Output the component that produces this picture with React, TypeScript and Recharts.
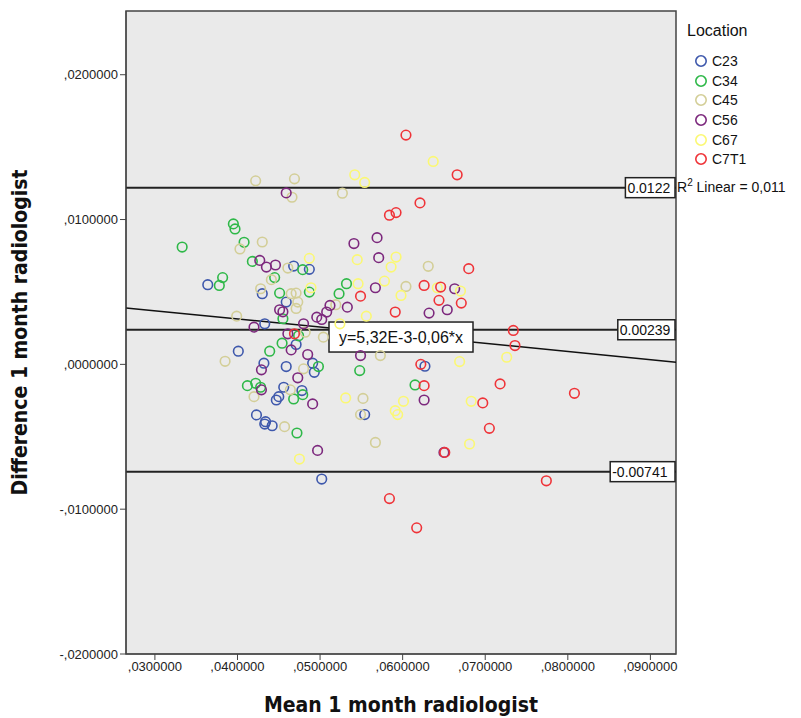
import { ScatterChart, Scatter, XAxis, YAxis, CartesianGrid, ReferenceLine, ReferenceArea } from "recharts";

type Pt = [number, number];

// [mean, difference], per location
const C23: Pt[] = [
  [0.0468, 0.00679], [0.0487, 0.00656], [0.0364, 0.0055], [0.043, 0.00488], [0.0459, 0.0043],
  [0.0433, 0.0028], [0.0471, 0.00137], [0.0401, 0.00091], [0.0432, 0.00008], [0.0459, -0.00015],
  [0.0491, 0.00008], [0.0493, -0.00055], [0.0456, -0.00158], [0.0478, -0.00181], [0.045, -0.00223],
  [0.0447, -0.00246], [0.0423, -0.00349], [0.0434, -0.00396], [0.0433, -0.00412], [0.0442, -0.00424],
  [0.0554, -0.00347], [0.0502, -0.00792], [0.0627, -0.00013],
];
const C34: Pt[] = [
  [0.0395, 0.0097], [0.0397, 0.00935], [0.0333, 0.0081], [0.0408, 0.00843], [0.0418, 0.00711],
  [0.0479, 0.00654], [0.0382, 0.00599], [0.0378, 0.00545], [0.0445, 0.00599], [0.0451, 0.00492],
  [0.0487, 0.00499], [0.0532, 0.00557], [0.0523, 0.00488], [0.0455, 0.00315], [0.0474, 0.00197],
  [0.0454, 0.00146], [0.0439, 0.00091], [0.0498, -0.00015], [0.0548, -0.00043], [0.0412, -0.00147],
  [0.0422, -0.00131], [0.0428, -0.00158], [0.0479, -0.00209], [0.0468, -0.00239], [0.0472, -0.00474],
  [0.0615, -0.00142],
];
const C45: Pt[] = [
  [0.0422, 0.01267], [0.0469, 0.01281], [0.0466, 0.01154], [0.0527, 0.01182], [0.043, 0.00845],
  [0.0403, 0.00797], [0.0461, 0.00665], [0.0428, 0.00522], [0.0441, 0.00585], [0.0465, 0.00488],
  [0.0471, 0.00492], [0.0473, 0.0043], [0.0471, 0.00386], [0.0399, 0.00333], [0.0482, 0.00222],
  [0.0504, 0.00188], [0.0519, 0.00412], [0.0385, 0.00021], [0.048, -0.00031], [0.042, -0.00223],
  [0.0464, -0.00176], [0.0552, -0.00235], [0.0457, -0.0043], [0.0549, -0.00347], [0.0567, -0.00539],
  [0.0604, 0.00538], [0.0631, 0.00677], [0.0573, 0.00061],
];
const C56: Pt[] = [
  [0.0459, 0.01184], [0.0541, 0.00834], [0.0569, 0.00875], [0.0571, 0.00737], [0.0427, 0.00718],
  [0.0435, 0.00672], [0.0446, 0.00686], [0.0451, 0.00377], [0.0455, 0.00363], [0.042, 0.00257],
  [0.048, 0.0028], [0.0461, 0.00211], [0.0496, 0.00326], [0.0502, 0.0031], [0.0508, 0.00361],
  [0.0512, 0.00407], [0.0533, 0.00395], [0.0567, 0.00529], [0.0465, 0.001], [0.0485, 0.00068],
  [0.0429, -0.00038], [0.0473, -0.00093], [0.0549, 0.00061], [0.0429, -0.00176], [0.0491, -0.00273],
  [0.0497, -0.00594], [0.0632, 0.00354], [0.0654, 0.00377], [0.0663, 0.00522], [0.0626, -0.00246],
  [0.065, -0.00608],
];
const C67: Pt[] = [
  [0.0542, 0.01309], [0.0554, 0.01256], [0.0637, 0.01401], [0.0487, 0.00732], [0.0545, 0.00723],
  [0.0586, 0.00672], [0.0592, 0.00741], [0.0489, 0.00529], [0.0546, 0.00557], [0.0524, 0.0028],
  [0.0556, 0.00333], [0.0578, 0.00575], [0.0598, 0.00476], [0.0642, 0.00529], [0.067, 0.00506],
  [0.0726, 0.00049], [0.0669, 0.00019], [0.0531, -0.00232], [0.0601, -0.00255], [0.0591, -0.0032],
  [0.0594, -0.00347], [0.0683, -0.00255], [0.0681, -0.0055], [0.0475, -0.00654],
];
const C7T1: Pt[] = [
  [0.0604, 0.01583], [0.0666, 0.01309], [0.0621, 0.01115], [0.0584, 0.0103], [0.0592, 0.01048],
  [0.068, 0.00661], [0.0549, 0.00471], [0.0626, 0.00545], [0.0646, 0.00534], [0.0644, 0.00442],
  [0.0671, 0.00423], [0.0591, 0.00361], [0.0469, 0.00211], [0.0734, 0.00234], [0.0736, 0.0013],
  [0.0622, 0], [0.0626, -0.00147], [0.0718, -0.00135], [0.0808, -0.002], [0.0697, -0.00266],
  [0.0705, -0.00442], [0.0651, -0.00608], [0.0774, -0.00804], [0.0584, -0.00927], [0.0617, -0.01129],
];

const SERIES: [string, Pt[]][] = [
  ["C23", C23], ["C34", C34], ["C45", C45], ["C56", C56], ["C67", C67], ["C7T1", C7T1],
];
const COLORS: Record<string, string> = {
  C23: "#3E58AC",
  C34: "#2EB848",
  C45: "#D3CE97",
  C56: "#7C287D",
  C67: "#FBF873",
  C7T1: "#EF3338",
};

const X_TICKS = [0.03, 0.04, 0.05, 0.06, 0.07, 0.08, 0.09];
const Y_TICKS = [-0.02, -0.01, 0, 0.01, 0.02];
const X_DOMAIN = [0.0265, 0.0931];
const Y_DOMAIN = [-0.02, 0.0244];

// mean difference and limits of agreement
const LIMITS = [
  { value: 0.0122, text: "0.0122" },
  { value: 0.00239, text: "0.00239" },
  { value: -0.00741, text: "-0.00741" },
];
// fit line ends, read at the plot edges
const FIT = [
  { x: 0.0265, y: 0.0039 },
  { x: 0.0931, y: 0.00015 },
];
const FIT_TEXT = "y=5,32E-3-0,06*x";
const R2_TEXT = "0,011";

const FONT = '"Liberation Sans", Arial, sans-serif';
const NARROW = '"Liberation Sans Narrow", "DejaVu Sans Condensed", "Liberation Sans", sans-serif';

const fmt = (v: number) => (v < 0 ? "-" : "") + "," + Math.abs(v).toFixed(7).split(".")[1];

function LimitLabel(props: any) {
  const vb = props.viewBox;
  const text: string = props.text;
  const w = text.length * 7.6 + 4;
  const right = vb.x + vb.width - 1;
  return (
    <g>
      <rect x={right - w} y={vb.y - 10} width={w} height={20} fill="#fff" stroke="#222" strokeWidth={1.5} />
      <text x={right - w + 2} y={vb.y + 5} fontSize={14} fontFamily={FONT} fill="#111">
        {text}
      </text>
    </g>
  );
}

function FitLabel(props: any) {
  const vb = props.viewBox;
  const cx = vb.x + vb.width / 2;
  const cy = vb.y + vb.height / 2 + 2;
  return (
    <g>
      <rect x={cx - 72} y={cy - 15} width={144} height={30} fill="#fff" stroke="#222" strokeWidth={1.5} />
      <text x={cx} y={cy + 6} textAnchor="middle" fontSize={16} fontFamily={FONT} fill="#111">
        {FIT_TEXT}
      </text>
    </g>
  );
}

function YTitle(props: any) {
  const vb = props.viewBox;
  const x = vb.x + 20;
  const y = vb.y + vb.height / 2;
  return (
    <text x={x} y={y} transform={`rotate(-90, ${x}, ${y})`} textAnchor="middle" dominantBaseline="central"
      fontSize={21} fontWeight="bold" fontFamily={NARROW} fill="#111">
      Difference 1 month radiologist
    </text>
  );
}

function XTitle(props: any) {
  const vb = props.viewBox;
  return (
    <text x={vb.x + vb.width / 2} y={vb.y + 58} textAnchor="middle"
      fontSize={21} fontWeight="bold" fontFamily={NARROW} fill="#111">
      Mean 1 month radiologist
    </text>
  );
}

export default function App() {
  return (
    <div style={{ position: "absolute", left: 0, top: 0, width: 801, height: 718, background: "#fff" }}>
      <ScatterChart width={801} height={718} margin={{ top: 11, right: 125, bottom: 34, left: 0 }}>
        <CartesianGrid fill="#EAEAEA" horizontal={false} vertical={false} />
        <XAxis
          type="number" dataKey="x" domain={X_DOMAIN} ticks={X_TICKS} allowDataOverflow
          tickFormatter={fmt} height={30} tickSize={6} stroke="#444"
          tick={{ fontSize: 13, fontFamily: FONT, fill: "#222" }}
          label={<XTitle />}
        />
        <YAxis
          type="number" dataKey="y" domain={Y_DOMAIN} ticks={Y_TICKS} allowDataOverflow
          tickFormatter={fmt} width={126} tickSize={6} stroke="#444"
          tick={{ fontSize: 13, fontFamily: FONT, fill: "#222" }}
          label={<YTitle />}
        />
        <ReferenceArea x1={X_DOMAIN[0]} x2={X_DOMAIN[1]} y1={Y_DOMAIN[0]} y2={Y_DOMAIN[1]}
          fill="none" stroke="#444" strokeWidth={1.5} />
        {SERIES.map(([name, pts]) => (
          <Scatter
            key={name}
            name={name}
            data={pts.map(([x, y]) => ({ x, y }))}
            isAnimationActive={false}
            shape={(p: any) => (
              <circle cx={p.cx} cy={p.cy} r={4.8} fill="none" stroke={COLORS[name]} strokeWidth={1.6} />
            )}
          />
        ))}
        {LIMITS.map((l) => (
          <ReferenceLine key={l.text} y={l.value} stroke="#222" strokeWidth={2}
            label={<LimitLabel text={l.text} />} />
        ))}
        <ReferenceLine segment={FIT} stroke="#111" strokeWidth={1.5} label={<FitLabel />} />
      </ScatterChart>

      <div style={{ position: "absolute", left: 687, top: 20, fontFamily: FONT, color: "#111" }}>
        <div style={{ fontSize: 16, lineHeight: "22px", marginBottom: 9 }}>Location</div>
        {SERIES.map(([name]) => (
          <div key={name} style={{ display: "flex", alignItems: "center", height: 19.7, fontSize: 14 }}>
            <svg width={20} height={14} style={{ marginLeft: 6 }}>
              <circle cx={8} cy={7} r={5.2} fill="none" stroke={COLORS[name]} strokeWidth={1.6} />
            </svg>
            <span style={{ marginLeft: -1 }}>{name}</span>
          </div>
        ))}
      </div>
      <div style={{ position: "absolute", left: 677, top: 177, fontFamily: FONT, fontSize: 14, color: "#111", whiteSpace: "nowrap" }}>
        R<sup style={{ fontSize: 10 }}>2</sup> Linear = {R2_TEXT}
      </div>
    </div>
  );
}
